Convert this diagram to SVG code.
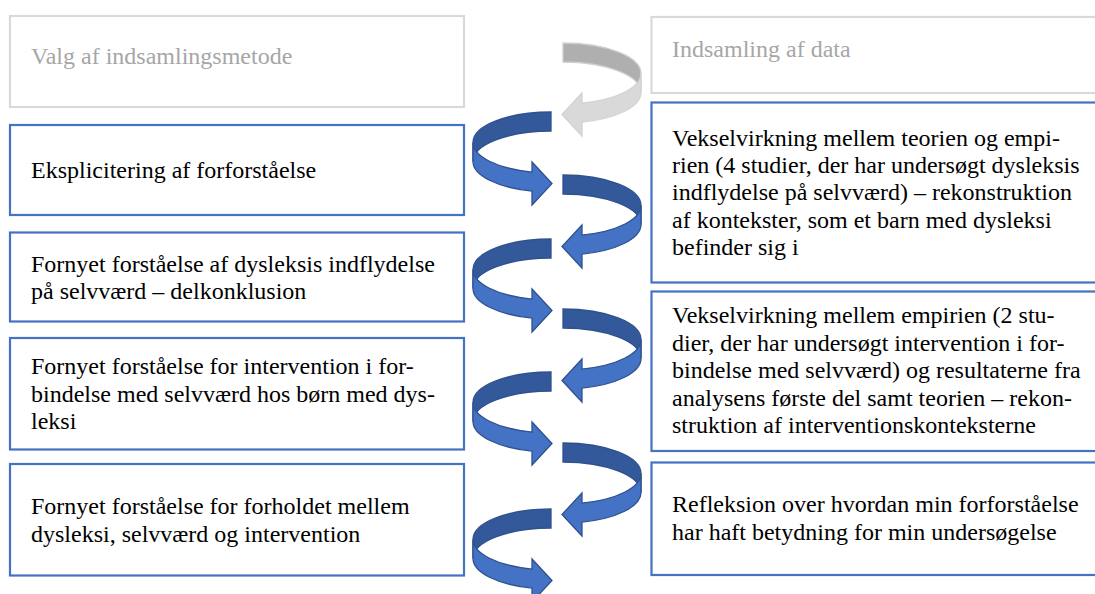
<svg xmlns="http://www.w3.org/2000/svg" xmlns:xlink="http://www.w3.org/1999/xlink" width="1095" height="594" viewBox="0 0 1095 594">
  <style>
    .box { fill: #ffffff; stroke-width: 2.2; }
    .blue { stroke: #4472c4; }
    .grey { stroke: #d9d9d9; }
    text { font-family: 'Liberation Serif', 'Times New Roman', 'DejaVu Serif', serif; font-size: 24px; fill: #000000; }
    text.dim { fill: #a6a6a6; }
    .bBack { fill: #33599b; stroke: #2f528f; stroke-width: 1.3; }
    .bFront { fill: #4472c4; stroke: #2f528f; stroke-width: 1.3; }
    .gBack { fill: #afafaf; stroke: #cfcfcf; stroke-width: 1.3; }
    .gFront { fill: #d9d9d9; stroke: #d3d3d3; stroke-width: 1.3; }
  </style>
  <defs>
    <!-- Curled ribbon arrow, turning left and pointing back to the right.
         Origin: top of the back band at x=551, y=0. -->
    <path id="curlBack" d="M551,0 A78,30.5 0 0 0 473,30.5 L473,49.5 A78,30.5 0 0 1 551,19 Z"/>
    <path id="curlFront" d="M473,30.5 A78,30.5 0 0 0 532,60.1 L532,50 L552,71.5 L532,93 L532,79.1 A78,30.5 0 0 1 473,49.5 Z"/>
  </defs>

  <rect width="1095" height="594" fill="#ffffff"/>

  <g font-family="Liberation Serif, serif">
  <!-- left column -->
  <g id="node-valg">
    <rect class="box grey" x="10" y="16" width="454" height="91"/>
    <text class="dim" x="31" y="63.5">Valg af indsamlingsmetode</text>
  </g>
  <g id="node-eksplicitering">
    <rect class="box blue" x="10" y="125" width="454" height="90"/>
    <text x="31" y="178.3">Eksplicitering af forforståelse</text>
  </g>
  <g id="node-delkonklusion">
    <rect class="box blue" x="10" y="232.5" width="454" height="89"/>
    <text x="31" y="271.7">Fornyet forståelse af dysleksis indflydelse</text>
    <text x="31" y="299.2">på selvværd – delkonklusion</text>
  </g>
  <g id="node-intervention">
    <rect class="box blue" x="10" y="338" width="454" height="111.5"/>
    <text x="31" y="374.2">Fornyet forståelse for intervention i for-</text>
    <text x="31" y="401.7">bindelse med selvværd hos børn med dys-</text>
    <text x="31" y="429.2">leksi</text>
  </g>
  <g id="node-forholdet">
    <rect class="box blue" x="10" y="464" width="454" height="111.5"/>
    <text x="31" y="514.2">Fornyet forståelse for forholdet mellem</text>
    <text x="31" y="541.7">dysleksi, selvværd og intervention</text>
  </g>

  <!-- right column -->
  <g id="node-indsamling">
    <rect class="box grey" x="651.5" y="17" width="460" height="76"/>
    <text class="dim" x="672" y="57.3">Indsamling af data</text>
  </g>
  <g id="node-vekselvirkning-1">
    <rect class="box blue" x="651.5" y="102.5" width="460" height="180"/>
    <text x="672" y="145.7">Vekselvirkning mellem teorien og empi-</text>
    <text x="672" y="173">rien (4 studier, der har undersøgt dysleksis</text>
    <text x="672" y="200.3">indflydelse på selvværd) – rekonstruktion</text>
    <text x="672" y="227.7">af kontekster, som et barn med dysleksi</text>
    <text x="672" y="255">befinder sig i</text>
  </g>
  <g id="node-vekselvirkning-2">
    <rect class="box blue" x="651.5" y="291.5" width="460" height="159.5"/>
    <text x="672" y="323.3">Vekselvirkning mellem empirien (2 stu-</text>
    <text x="672" y="350.8">dier, der har undersøgt intervention i for-</text>
    <text x="672" y="378.3">bindelse med selvværd) og resultaterne fra</text>
    <text x="672" y="405.8">analysens første del samt teorien – rekon-</text>
    <text x="672" y="433.3">struktion af interventionskonteksterne</text>
  </g>
  <g id="node-refleksion">
    <rect class="box blue" x="651.5" y="462.5" width="460" height="112.5"/>
    <text x="672" y="512.3">Refleksion over hvordan min forforståelse</text>
    <text x="672" y="539.8">har haft betydning for min undersøgelse</text>
  </g>
  </g>

  <!-- curled arrows linking the steps -->
  <g id="connectors">
    <!-- grey: right-hand curl, mirrored about x=557 -->
    <g transform="translate(1114,43) scale(-1,1)">
      <use xlink:href="#curlBack" class="gBack"/>
      <use xlink:href="#curlFront" class="gFront"/>
    </g>
    <g transform="translate(0,112)">
      <use xlink:href="#curlBack" class="bBack"/>
      <use xlink:href="#curlFront" class="bFront"/>
    </g>
    <g transform="translate(1114,175) scale(-1,1)">
      <use xlink:href="#curlBack" class="bBack"/>
      <use xlink:href="#curlFront" class="bFront"/>
    </g>
    <g transform="translate(0,239)">
      <use xlink:href="#curlBack" class="bBack"/>
      <use xlink:href="#curlFront" class="bFront"/>
    </g>
    <g transform="translate(1114,309) scale(-1,1)">
      <use xlink:href="#curlBack" class="bBack"/>
      <use xlink:href="#curlFront" class="bFront"/>
    </g>
    <g transform="translate(0,372)">
      <use xlink:href="#curlBack" class="bBack"/>
      <use xlink:href="#curlFront" class="bFront"/>
    </g>
    <g transform="translate(1114,443) scale(-1,1)">
      <use xlink:href="#curlBack" class="bBack"/>
      <use xlink:href="#curlFront" class="bFront"/>
    </g>
    <g transform="translate(0,509)">
      <use xlink:href="#curlBack" class="bBack"/>
      <use xlink:href="#curlFront" class="bFront"/>
    </g>
  </g>
</svg>
